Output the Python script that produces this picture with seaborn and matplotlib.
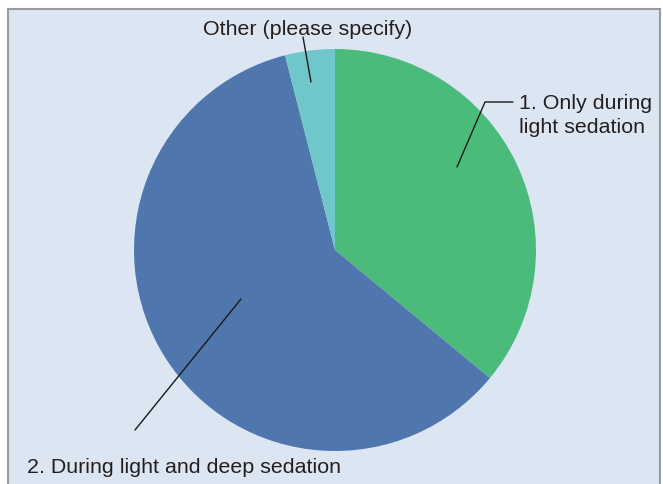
import matplotlib
matplotlib.use("Agg")
import matplotlib.pyplot as plt
from matplotlib.patches import Rectangle
import seaborn as sns

# Answer shares (percent), clockwise from 12 o'clock
categories = ["1. Only during\nlight sedation",
              "2. During light and deep sedation",
              "Other (please specify)"]
shares = [36, 60, 4]
colors = ["#4BBB7B", "#4F77AE", "#70C7CA"]

sns.set_style("white")
plt.rcParams["font.family"] = ["Liberation Sans", "DejaVu Sans"]

W, H = 663, 485
fig = plt.figure(figsize=(W / 100, H / 100), dpi=100)
fig.patch.set_facecolor("white")
ax = fig.add_axes([0, 0, 1, 1])

# panel background with grey frame
ax.add_patch(Rectangle((8, -5), 652, H - 10 + 5, facecolor="#DCE6F3",
                       edgecolor="#9A9A9A", linewidth=1.5, zorder=0))

ax.pie(shares, colors=colors, startangle=90, counterclock=False,
       center=(335, H - 251), radius=201, frame=True,
       wedgeprops=dict(linewidth=0))
ax.set_xlim(0, W)
ax.set_ylim(0, H)
ax.set_aspect("equal")
ax.axis("off")

txt = dict(fontsize=15.4, color="#231F20")
line = dict(color="#1A1A1A", linewidth=1.0)

# Other
ax.text(308, H - 35, categories[2], ha="center", va="baseline", **txt)
ax.plot([303, 311], [H - 38, H - 83], **line)

# 1. Only during light sedation
ax.text(519, H - 109, "1. Only during", ha="left", va="baseline", **txt)
ax.text(519, H - 133, "light sedation", ha="left", va="baseline", **txt)
ax.plot([513, 485, 457], [H - 103, H - 103, H - 168], **line)

# 2. During light and deep sedation
ax.text(27, H - 473, categories[1], ha="left", va="baseline", **txt)
ax.plot([135, 241], [H - 431, H - 300], **line)

fig.savefig("out.png", dpi=100, facecolor="white")
